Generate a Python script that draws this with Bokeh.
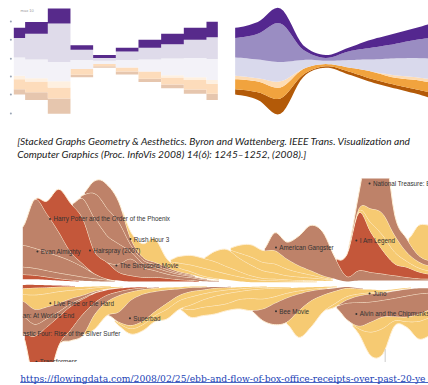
import numpy as np
from bokeh.plotting import figure
from bokeh.layouts import column, row
from bokeh.embed import file_html
from bokeh.resources import INLINE
from bokeh.core.properties import value

# ---------- top panels: six stacked series over ten samples ----------
top_base = [-1.95, -2.24, -3.00, -1.00, -0.49, -0.85, -1.27, -1.60, -1.91, -2.24]
tan      = [.29, .42, .84, .13, .09, .16, .18, .20, .24, .33]
peach    = [.55, .58, .60, .31, .11, .22, .40, .38, .51, .55]
cream    = [.18, .18, .33, 0, 0, 0, 0, .13, .15, .20]
pale     = [1.00, 1.02, 1.05, .49, .18, .40, .65, .91, 1.05, 1.15]
lavender = [1.07, 1.40, 2.11, .56, .16, .47, .64, .78, 1.00, 1.18]
purple   = [.55, .65, .82, .25, .16, .20, .44, .56, .65, .85]
top_ticks = [2.04, 1.04, 0, -.96, -1.95, -2.98]
top_layers = [tan, peach, cream, pale, lavender, purple]
step_colors = ["#e6c6ae", "#fddcbb", "#fef0e0", "#f3f2f8", "#dfdbea", "#572a8b"]
wave_colors = ["#b35a08", "#f1a33e", "#fedcb4", "#d9d9ec", "#9a8dc2", "#54278f"]

# ---------- bottom panel: box-office receipts per week ----------
N = 35
def pad(start, vals):
    return [0] * start + vals + [0] * (N - start - len(vals))

# above the centre line, from the centre outward
gap_a  = [14, 14, 12, 10, 8] + [7]*10 + [6, 6, 6] + [5]*8 + [7, 7] + [10]*7
a_red  = pad(0, [14, 12, 9, 6, 4, 2, 1])
a_br2  = pad(0, [23, 21, 19, 17, 15, 12, 8, 5, 2])
evan   = pad(0, [65, 60, 55, 50, 42, 30, 14, 3, 1])
a_br4  = pad(0, [54, 146, 115, 72, 26, 9])
harry  = pad(2, [37, 128, 145, 135, 65, 50, 25, 18, 13, 13, 10, 6, 4, 2, 1])
simps  = pad(8, [25, 50, 30, 20, 13, 10, 8, 5, 3, 2, 1])
hair1  = pad(5, [60, 100, 80, 60, 22, 12, 10, 8, 6, 4, 3, 2, 1, 1])
hair2  = pad(5, [10, 75, 82, 65, 20, 10, 8, 6, 4, 3, 2, 1, 1])
hair3  = pad(5, [2, 38, 70, 60, 18, 8, 7, 6, 4, 3, 1, 1])
rush   = pad(9, [20, 40, 70, 25, 12, 8, 5, 3, 2, 1])
yel2a  = pad(13, [14, 20, 24, 22, 18, 14, 10, 6, 5, 4, 3, 3, 2, 1])
yel2b  = pad(13, [19, 28, 29, 28, 22, 16, 10, 6, 5, 4, 3, 2, 2, 1])
yel3   = pad(16, [30, 51, 40, 32, 23, 18, 12, 10, 8, 6, 2])
yel4a  = pad(18, [15, 24, 25, 27, 20, 14, 9, 4, 2])
yel4b  = pad(18, [22, 36, 35, 40, 30, 20, 13, 6, 2])
gang   = pad(21, [53, 50, 88, 135, 130, 65, 15, 30, 25, 20, 15, 10, 6, 5])
legend = pad(27, [65, 173, 120, 70, 35, 30, 20, 14])
yel5a  = pad(27, [1, 5, 28, 45, 35, 18, 12, 10])
yel5b  = pad(27, [2, 7, 42, 65, 50, 27, 18, 15])
treas  = pad(28, [45, 225, 240, 60, 40, 19, 15])
yel6   = pad(33, [90, 106])

# below the centre line, from the centre outward
gap_b  = [3, 3, 4, 5, 6] + [7]*23 + [12, 15, 18, 15, 12, 10, 10]
b_red  = pad(0, [12, 10, 8, 5, 3, 2, 1])
b_yel  = pad(0, [18, 21, 18, 14, 11, 8, 5, 3, 2, 1, 1, 1, 1, 1])
live   = pad(0, [20, 43, 40, 35, 25, 18, 10, 6, 3, 2, 1, 1])
pirate = pad(0, [45, 45, 35, 25, 15, 8, 4, 2, 1, 1, 1])
ffour  = pad(0, [52, 35, 25, 15, 8, 4, 2, 1, 1])
transf = pad(0, [0, 143, 170, 86, 70, 45, 28, 16, 10, 6, 3, 2, 1, 1])
bourne = pad(4, [32, 63, 35, 20, 12, 8, 5, 3, 2, 1, 1, 1])
yel_a  = pad(6, [43, 40, 49, 25, 14, 10, 8, 6, 4, 3, 2, 2, 1, 1, 1, 1, 1])
superb = pad(8, [30, 75, 80, 60, 40, 20, 12, 8, 5, 3, 2, 1])
yel_b1 = pad(8, [4, 10, 11, 12, 18, 16, 16, 12, 10, 7, 6, 4, 3, 2, 2, 2, 1, 1])
yel_b2 = pad(8, [6, 15, 17, 17, 28, 25, 24, 18, 14, 11, 8, 6, 5, 4, 3, 2, 2, 1, 1])
yel_c1 = pad(14, [14, 22, 28, 30, 24, 26, 30, 25, 16, 11, 7, 5, 3, 1, 1])
yel_c2 = pad(14, [22, 24, 24, 20, 27, 35, 30, 20, 14, 9, 5, 3, 2, 1])
bee    = pad(20, [34, 63, 72, 50, 30, 18, 10, 5, 3, 2, 1, 1])
yel_e  = pad(22, [5, 79, 78, 50, 37, 25, 15, 10, 6, 4, 3, 2, 2])
yel_f  = pad(26, [10, 10, 6, 4, 3, 2, 2, 1, 1])
juno   = pad(27, [10, 20, 24, 22, 22, 20, 18, 15])
alvin  = pad(27, [48, 70, 60, 50, 55, 63, 60, 50])
yel_g1 = pad(28, [8, 30, 34, 12, 14, 22, 24])
yel_g2 = pad(28, [15, 70, 76, 14, 16, 52, 53])

BROWN, RED, YEL = "#be8269", "#c4573a", "#f6ca72"
above = [(a_red, RED), (a_br2, BROWN), (evan, BROWN), (a_br4, BROWN), (harry, RED),
         (simps, BROWN), (hair1, BROWN), (hair2, BROWN), (hair3, BROWN), (rush, YEL),
         (yel2a, YEL), (yel2b, YEL), (yel3, YEL), (yel4a, YEL), (yel4b, YEL), (gang, BROWN),
         (legend, RED), (yel5a, YEL), (yel5b, YEL), (treas, BROWN), (yel6, YEL)]
below = [(b_red, RED), (b_yel, YEL), (live, YEL), (pirate, BROWN), (ffour, BROWN),
         (transf, RED), (bourne, BROWN), (yel_a, YEL), (superb, BROWN), (yel_b1, YEL), (yel_b2, YEL),
         (yel_c1, YEL), (yel_c2, YEL), (bee, BROWN), (yel_e, YEL), (yel_f, YEL), (juno, BROWN),
         (alvin, BROWN), (yel_g1, YEL), (yel_g2, YEL)]

label_names = ["Harry Potter and the Order of the Phoenix", "Rush Hour 3", "Evan Almighty",
               "Hairspray (2007)", "The Simpsons Movie", "Live Free or Die Hard", "Superbad",
               "Transformers", "American Gangster", "National Treasure: B",
               "I Am Legend", "Bee Movie", "Juno", "Alvin and the Chipmunks"]
label_week = [2.27, 8.97, 1.22, 5.6, 7.8, 2.3, 8.93, 1.14, 21.1, 28.9, 27.8, 21.1, 28.9, 27.8]
label_val  = [194, 134, 97, 100, 55, -58, -103, -233, 109, 300, 130, -82, -29, -90]
cut_names = ["an: At World's End", "astic Four: Rise of the Silver Surfer"]
cut_week = [0, 0]
cut_val = [-96, -147]

caption = ["[Stacked Graphs Geometry & Aesthetics. Byron and Wattenberg. IEEE Trans. Visualization and",
           "Computer Graphics (Proc. InfoVis 2008) 14(6): 1245\u20131252, (2008).]"]
url = "https://flowingdata.com/2008/02/25/ebb-and-flow-of-box-office-receipts-over-past-20-ye"


def smooth(vals, n=8):
    """Catmull-Rom curve through the read samples (drawing only)."""
    v = np.asarray(vals, float)
    p = np.concatenate([[v[0]], v, [v[-1]]])
    out, xs = [], []
    for i in range(len(v) - 1):
        t = np.arange(n) / n
        a, b, c, d = p[i], p[i + 1], p[i + 2], p[i + 3]
        out.append(0.5 * (2 * b + (c - a) * t + (2 * a - 5 * b + 4 * c - d) * t**2 + (3 * b - a - 3 * c + d) * t**3))
        xs.append(i + t)
    return np.concatenate(xs + [[len(v) - 1.0]]), np.concatenate(out + [[v[-1]]])


def panel(w, h, xr, yr):
    p = figure(width=w, height=h, x_range=xr, y_range=yr, output_backend="svg", toolbar_location=None,
               min_border=0, outline_line_color=None, background_fill_color="white")
    p.axis.visible = False
    p.grid.visible = False
    return p


# left: stepped stack (frame spans 0..218 px, sample i sits at 13.3 + 22.67 i)
p1 = panel(218, 130, (-0.587, 9.03), (-3.91, 3.18))
idx = np.arange(len(top_base))
edges = np.repeat(np.concatenate([[0], idx[:-1] + 0.5, [idx[-1]]]), 2)[1:-1]
low = np.array(top_base, float)
for vals, col in zip(top_layers, step_colors):
    high = low + np.array(vals)
    p1.varea(x=edges, y1=np.repeat(low, 2), y2=np.repeat(high, 2), fill_color=col)
    low = high
p1.scatter(x=[-0.13] * len(top_ticks), y=top_ticks, size=2, color="#9aa5b5", line_color=None)
p1.text(x=[0.3], y=[2.62], text=["max 10"], text_font=value("Liberation Sans"), text_font_size="4px",
        text_color="#999999", text_baseline="middle")

# right: the same stack, smoothed
p2 = panel(210, 130, (-0.735, 8.53), (-3.91, 3.18))
low = smooth(top_base)[1]
for vals, col in zip(top_layers, wave_colors):
    xs, th = smooth(vals)
    th = np.clip(th, 0, None)
    p2.varea(x=xs, y1=low, y2=low + th, fill_color=col)
    low = low + th

# caption
cap = panel(428, 48, (0, 428), (178, 130))
cap.text(x=[16.7], y=[140.7], text=caption[:1], text_font=value("Lato"), text_font_style="italic",
         text_font_size="10.2px", text_color="#222222", text_baseline="middle")
cap.text(x=[16.7], y=[153.7], text=caption[1:], text_font=value("Lato"), text_font_style="italic",
         text_font_size="10.2px", text_color="#222222", text_baseline="middle")


# bottom: stream graph; a layer is drawn only over the weeks where it has visible thickness
def draw_side(p, layers, gap, sign):
    low = smooth(gap, 6)[1]
    for vals, col in layers:
        xs, th = smooth(vals, 6)
        th = np.clip(th, 0, None)
        high = low + th
        on = th > 2.5
        marks = np.flatnonzero(np.diff(np.concatenate([[0], on.astype(int), [0]])))
        for a, b in zip(marks[::2], marks[1::2]):
            p.varea(x=xs[a:b], y1=sign * low[a:b], y2=sign * high[a:b], fill_color=col)
            p.line(x=xs[a:b], y=sign * high[a:b], line_color="#fff0d6", line_width=1)
        low = high


# frame spans 0..428 px; week i sits at 22.3 + 12 i
p3 = panel(428, 184, (-1.858, 33.81), (-235, 315))
draw_side(p3, above, gap_a, 1)
draw_side(p3, below, gap_b, -1)
p3.segment(x0=[30.2], y0=[-235], x1=[30.2], y1=[-195], line_color="#cccccc", line_width=1)
p3.scatter(x=label_week, y=label_val, size=2, color="#333333", line_color=None)
p3.text(x=np.array(label_week) + 0.28, y=label_val, text=label_names, text_font=value("Liberation Sans"),
        text_font_size="6.3px", text_color="#333333", text_baseline="middle")
p3.text(x=cut_week, y=cut_val, text=cut_names, text_font=value("Liberation Sans"),
        text_font_size="6.3px", text_color="#333333", text_baseline="middle")

# link
u = panel(428, 23, (0, 428), (385, 362))
u.text(x=[19.7], y=[378], text=[url], text_font=value("DejaVu Serif"), text_font_size="9.2px",
       text_color="#1b3fb5", text_baseline="middle")
u.segment(x0=[19.7], y0=[382], x1=[428], y1=[382], line_color="#1b3fb5", line_width=0.8)

page = column(row(p1, p2, spacing=0), cap, p3, u, spacing=0)
open("out.html", "w").write(file_html(page, INLINE))
